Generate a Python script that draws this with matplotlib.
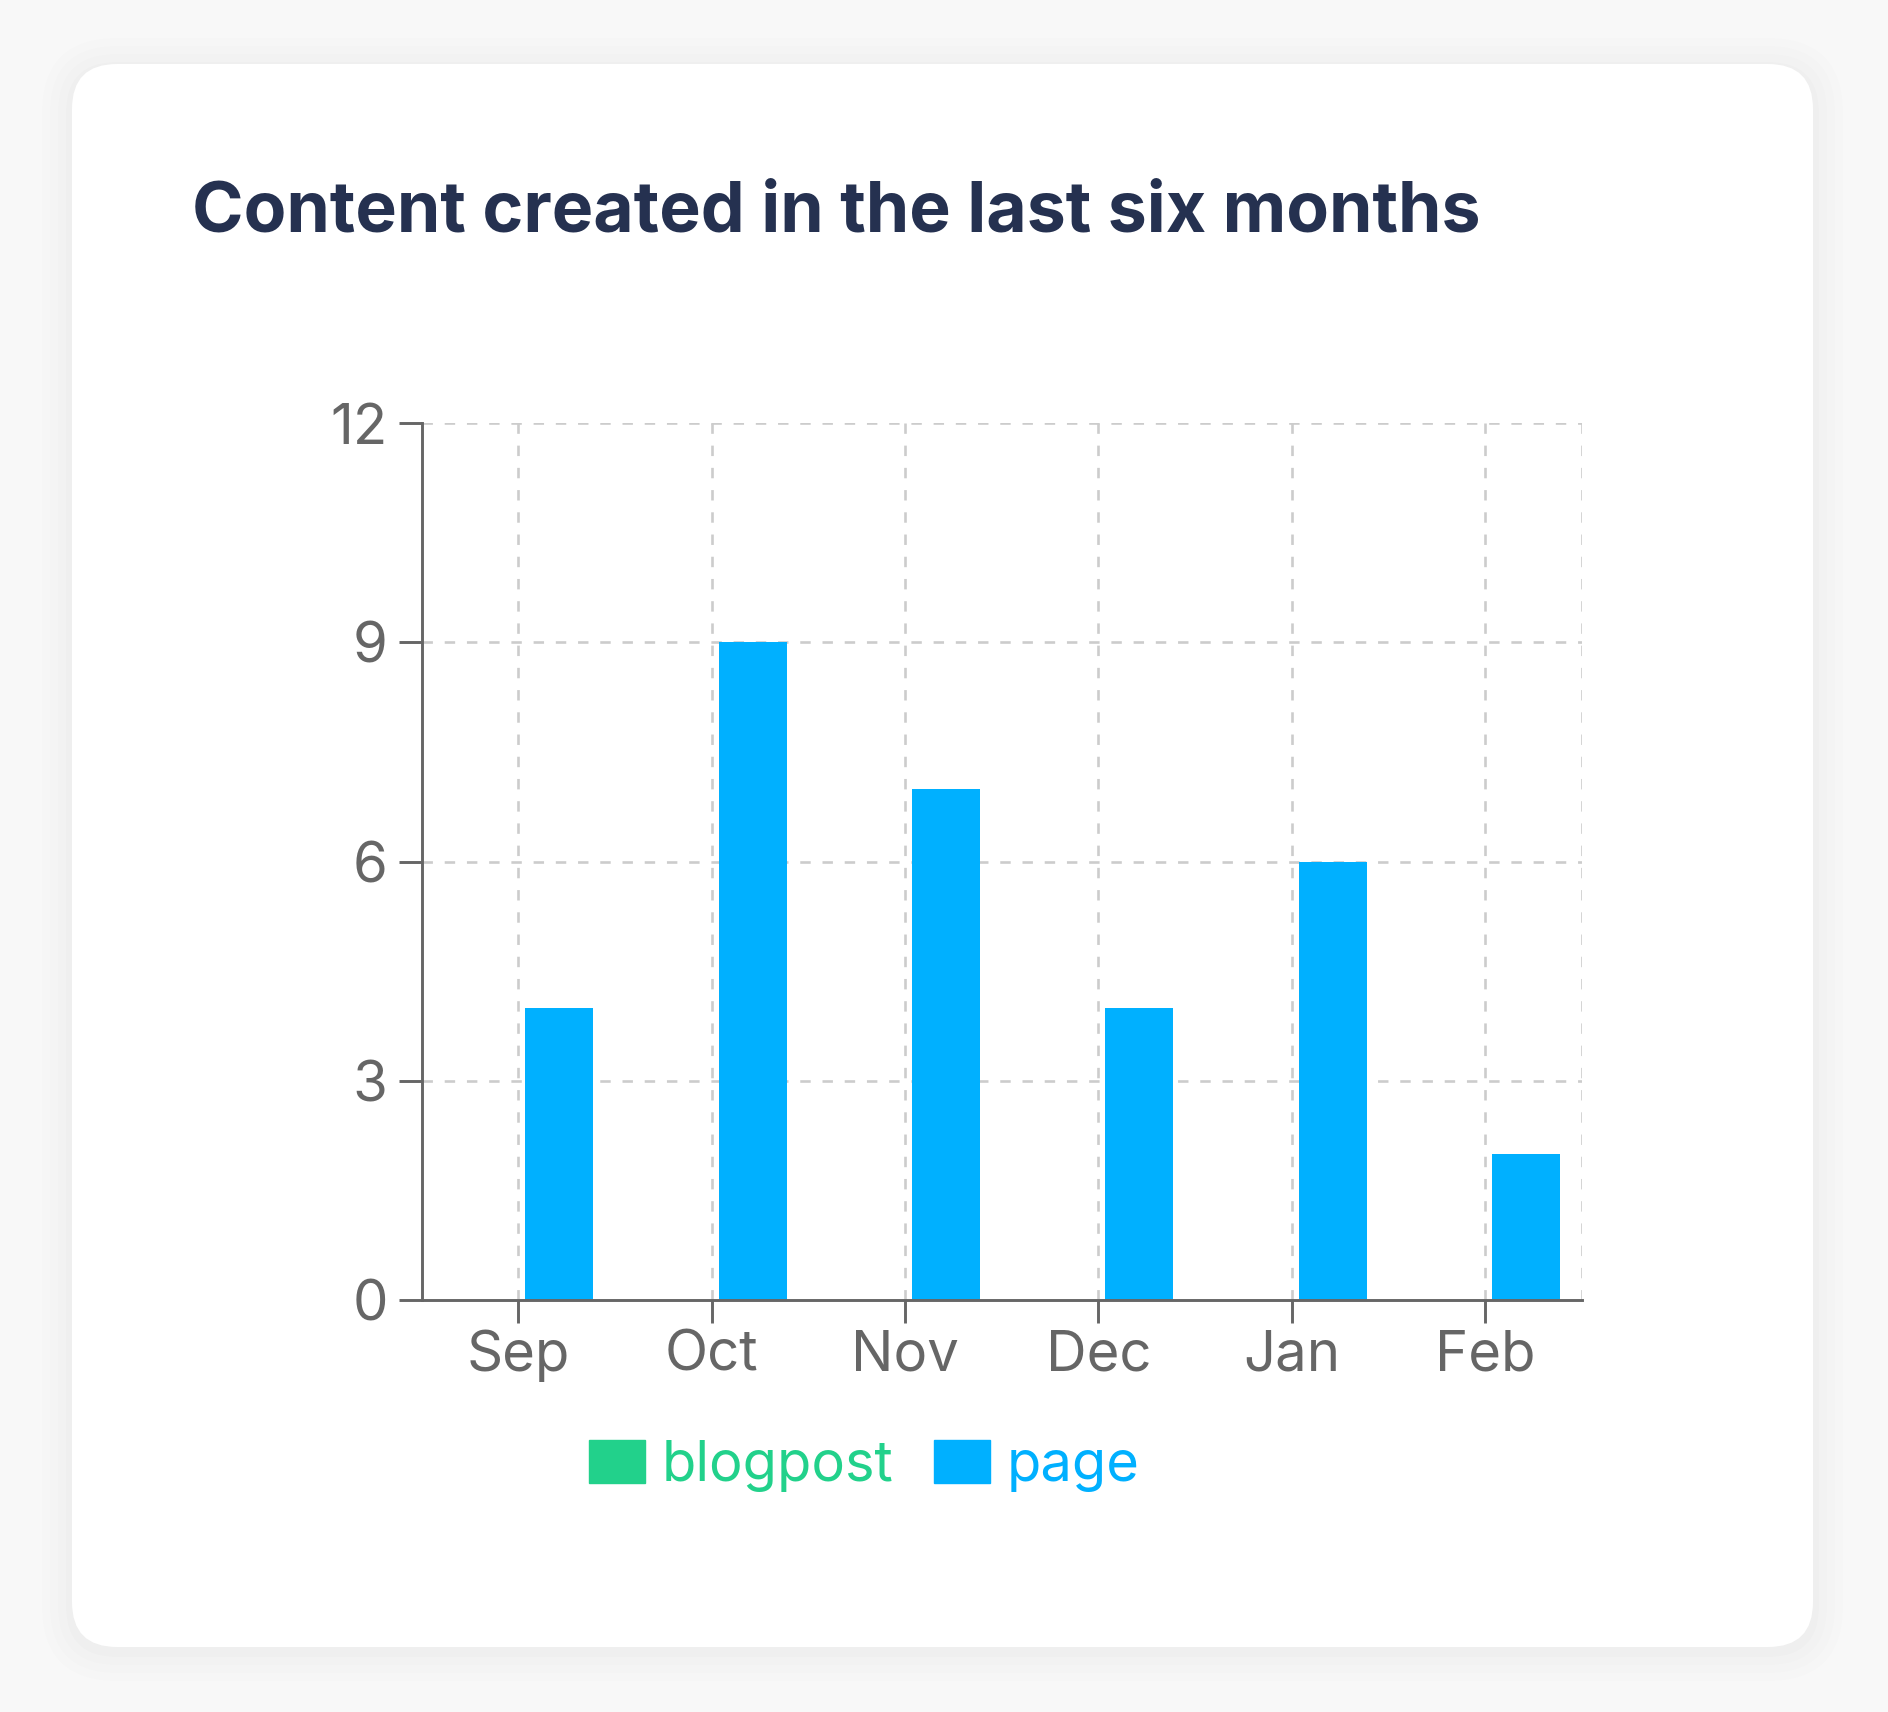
import matplotlib
matplotlib.use("Agg")
import numpy as np
from matplotlib import pyplot as plt
from matplotlib.patches import FancyBboxPatch, Patch

months = ["Sep", "Oct", "Nov", "Dec", "Jan", "Feb"]
blogpost = [0, 0, 0, 0, 0, 0]
page = [4, 9, 7, 4, 6, 2]
y_ticks = [0, 3, 6, 9, 12]

BLOG_COLOR = "#22d18b"
PAGE_COLOR = "#00b0ff"
AXIS_COLOR = "#666666"
GRID_COLOR = "#cccccc"
TITLE_COLOR = "#253150"

W, H, DPI = 1888, 1712, 100
plt.rcParams["font.family"] = ["Inter", "DejaVu Sans"]
plt.rcParams["lines.scale_dashes"] = False

fig = plt.figure(figsize=(W / DPI, H / DPI), dpi=DPI, facecolor="#f8f8f8")

# background card drawn in pixel coordinates
bg = fig.add_axes([0, 0, 1, 1], zorder=-1)
bg.set_xlim(0, W)
bg.set_ylim(H, 0)
bg.axis("off")
for i, a in enumerate([0.006, 0.006, 0.008, 0.01]):
    grow = 30 - i * 8
    bg.add_patch(FancyBboxPatch((72 - grow, 64 - grow + 4), 1741 + 2 * grow, 1583 + 2 * grow,
                                boxstyle=f"round,pad=0,rounding_size={45 + grow}",
                                fc="black", ec="none", alpha=a))
bg.add_patch(FancyBboxPatch((72, 64), 1741, 1583, boxstyle="round,pad=0,rounding_size=45",
                            fc="white", ec="none"))

fig.text(192 / W, 1 - 231 / H, "Content created in the last six months", fontsize=50.2,
         fontweight="bold", color=TITLE_COLOR, ha="left", va="baseline")

ax = fig.add_axes([421.7 / W, 1 - 1300 / H, 1160 / W, 876.7 / H])
ax.set_facecolor("none")

x = np.arange(len(months))
off, bw = 0.036, 0.352
ax.bar(x - off - bw, blogpost, width=bw, align="edge", color=BLOG_COLOR, linewidth=0, zorder=3)
ax.bar(x + off, page, width=bw, align="edge", color=PAGE_COLOR, linewidth=0, zorder=3)

ax.set_xlim(-0.5, len(months) - 0.5)
ax.set_ylim(0, 12)

dash = (0, (7.5, 8.5))
for v in y_ticks[1:]:
    ax.axhline(v, color=GRID_COLOR, lw=1.9, ls=dash, zorder=1)
for v in list(x) + [len(months) - 0.5]:
    ax.axvline(v, color=GRID_COLOR, lw=1.9, ls=dash, zorder=1)

ax.set_xticks(x)
ax.set_xticklabels(months)
ax.set_yticks(y_ticks)
for s in ["top", "right"]:
    ax.spines[s].set_visible(False)
for s in ["left", "bottom"]:
    ax.spines[s].set_color(AXIS_COLOR)
    ax.spines[s].set_linewidth(2.1)
    ax.spines[s].set_zorder(4)
ax.tick_params(axis="both", length=16.5, width=2.1, color=AXIS_COLOR, labelcolor=AXIS_COLOR,
               labelsize=40.5)
ax.tick_params(axis="y", pad=8)
ax.tick_params(axis="x", pad=5)

handles = [Patch(color=BLOG_COLOR, label="blogpost"), Patch(color=PAGE_COLOR, label="page")]
leg = fig.legend(handles=handles, loc="center", bbox_to_anchor=(864 / W, 1 - 1466 / H), ncol=2,
                 frameon=False, fontsize=40.3, handlelength=1.0, handleheight=0.78,
                 handletextpad=0.3, columnspacing=0.72, borderpad=0)
for t, c in zip(leg.get_texts(), [BLOG_COLOR, PAGE_COLOR]):
    t.set_color(c)

fig.savefig("out.png", dpi=DPI, facecolor=fig.get_facecolor())
